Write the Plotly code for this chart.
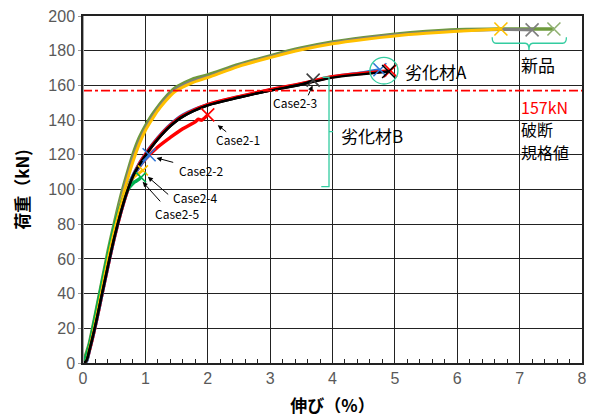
import plotly.graph_objects as go

# ---------------- data ----------------
# 新品 (new material)
new_gold_x = [0.0, 0.05, 0.1, 0.2, 0.3, 0.4, 0.5, 0.6, 0.7, 0.8, 0.9, 1.0, 1.1, 1.2, 1.3, 1.4, 1.5, 1.75, 2.0, 2.5, 3.0, 3.5, 4.0, 4.5, 5.0, 5.5, 6.0, 6.7]
new_gold_y = [0, 1, 7, 23, 41, 59, 76, 91, 104, 116, 126, 134, 140, 145.5, 150, 154, 157, 161.5, 164.5, 171, 176, 180.5, 184, 186.5, 188.5, 190, 191.2, 192.5]
new_gray_x = [0.0, 0.05, 0.1, 0.2, 0.3, 0.4, 0.5, 0.6, 0.7, 0.8, 0.9, 1.0, 1.1, 1.2, 1.3, 1.4, 1.5, 1.75, 2.0, 2.5, 3.0, 3.5, 4.0, 4.5, 5.0, 5.5, 6.0, 6.7, 7.2]
new_gray_y = [0, 2, 9, 25, 43, 61, 78, 93, 106, 118, 127.5, 135, 141, 146.5, 151, 155, 158, 162.5, 165, 171.5, 176.5, 181, 184.5, 187, 189, 190.5, 191.5, 192.2, 192]
new_green_x = [0.0, 0.03, 0.1, 0.2, 0.3, 0.4, 0.5, 0.6, 0.7, 0.8, 0.9, 1.0, 1.1, 1.2, 1.3, 1.4, 1.5, 1.75, 2.0, 2.5, 3.0, 3.5, 4.0, 4.5, 5.0, 5.5, 6.0, 6.7, 7.2, 7.55]
new_green_y = [0, 3, 11, 28, 46, 64, 80, 95, 108, 120, 129.5, 136.5, 142.5, 147.5, 152, 156, 159, 163.5, 166, 172, 177, 181.5, 185, 187.5, 189.5, 191, 192, 192.5, 192.5, 192.5]

# 劣化材A (degraded A)
degA_black_x = [0.0, 0.05, 0.1, 0.2, 0.3, 0.4, 0.5, 0.6, 0.7, 0.8, 0.9, 1.0, 1.1, 1.2, 1.4, 1.6, 2.0, 2.5, 3.0, 3.5, 4.0, 4.5, 4.9]
degA_black_y = [0, 1, 7, 22, 39, 56, 72, 86, 98, 107.5, 114, 119.5, 124.5, 129, 136.5, 142, 148.5, 153, 157, 160.5, 164.5, 166.5, 168]
degA_red_x = [0.0, 0.05, 0.1, 0.2, 0.3, 0.4, 0.5, 0.6, 0.7, 0.8, 0.9, 1.0, 1.1, 1.2, 1.4, 1.6, 2.0, 2.5, 3.0, 3.5, 4.0, 4.5, 4.93]
degA_red_y = [0, 1, 7, 22, 39, 56, 72, 86, 98, 107.5, 114.5, 120, 125, 129.5, 137, 142.5, 149, 153.5, 157.5, 161, 165, 167, 168.5]
degA_blue_x = [0.0, 0.05, 0.1, 0.2, 0.3, 0.4, 0.5, 0.6, 0.7, 0.8, 0.9, 1.0, 1.1, 1.2, 1.4, 1.6, 2.0, 2.5, 3.0, 3.5, 4.0, 4.5, 4.76]
degA_blue_y = [0, 1, 8, 23, 40, 57, 73, 87, 99, 108, 115, 120.5, 125.5, 130, 137.5, 143, 149, 153.5, 157.5, 161, 165, 167.5, 169]

# 劣化材B (degraded B)
case21_x = [0.0, 0.05, 0.1, 0.2, 0.3, 0.4, 0.5, 0.6, 0.7, 0.8, 0.9, 1.0, 1.2, 1.4, 1.6, 1.8, 1.85, 1.9, 2.0]
case21_y = [0, 1, 7, 22, 39, 56, 72, 86, 98, 107, 113, 117.5, 124.5, 130, 135, 139, 140.5, 140, 143]
case22_x = [0.0, 0.05, 0.1, 0.2, 0.3, 0.4, 0.5, 0.6, 0.7, 0.8, 0.9, 1.0, 1.06]
case22_y = [0, 1, 8, 23, 40, 57, 73, 87, 99, 107.5, 113.5, 118, 120]
case23_x = [0.0, 0.05, 0.1, 0.2, 0.3, 0.4, 0.5, 0.6, 0.7, 0.8, 0.9, 1.0, 1.1, 1.2, 1.4, 1.6, 2.0, 2.5, 3.0, 3.5, 3.69]
case23_y = [0, 1, 7, 22, 39, 56, 72, 86, 98, 107.5, 114, 119.5, 124.5, 129, 136.5, 142, 148.5, 153, 157, 160.5, 163]
case24_x = [0.0, 0.05, 0.1, 0.2, 0.3, 0.4, 0.5, 0.6, 0.7, 0.8, 0.9, 0.96]
case24_y = [0, 1, 8, 24, 42, 60, 76, 90, 100.5, 106.5, 109.5, 111]
case25_x = [0.0, 0.03, 0.1, 0.2, 0.3, 0.4, 0.5, 0.6, 0.7, 0.8, 0.9, 0.93]
case25_y = [0, 2, 10, 27, 45, 62, 78, 90.5, 99, 103.5, 106, 107]

break_load = 157  # kN
x_ticks = [0, 1, 2, 3, 4, 5, 6, 7, 8]
y_ticks = [0, 20, 40, 60, 80, 100, 120, 140, 160, 180, 200]

# ---------------- figure ----------------
fig = go.Figure()

def curve(x, y, color, width=3.2):
    fig.add_trace(go.Scatter(x=x, y=y, mode="lines",
                             line=dict(color=color, width=width, shape="spline", smoothing=0.8),
                             showlegend=False, hoverinfo="skip"))

def end_cross(x, y, color, size=13):
    fig.add_trace(go.Scatter(x=[x[-1]], y=[y[-1]], mode="markers",
                             marker=dict(symbol="x-thin", size=size, line=dict(color=color, width=1.6)),
                             showlegend=False, hoverinfo="skip"))

GOLD = "#FFC000"
OLIVE = "#6E9A3C"
GRAY = "#7F7F7F"
RED = "#FF0000"
BLUE = "#2E75D6"
BGREEN = "#00B050"
TEAL = "#33CCA0"

# new material curves
curve(new_green_x, new_green_y, OLIVE, 3.6)
curve(new_gray_x, new_gray_y, GRAY, 3)
curve(new_gold_x, new_gold_y, GOLD, 3)
# degraded A
curve(degA_blue_x, degA_blue_y, BLUE, 3)
curve(degA_red_x, degA_red_y, RED, 3.4)
# degraded B
curve(case21_x, case21_y, RED, 3.4)
curve(case22_x, case22_y, BLUE, 4)
curve(case25_x, case25_y, BGREEN, 3.4)
curve(case24_x, case24_y, GOLD, 2.6)
curve(case23_x, case23_y, "#000000", 2.4)
curve(degA_black_x, degA_black_y, "#000000", 2.4)

end_cross(new_gold_x, new_gold_y, GOLD)
end_cross(new_gray_x, new_gray_y, GRAY)
end_cross(new_green_x, new_green_y, "#8FB070")
end_cross(degA_blue_x, degA_blue_y, BLUE)
end_cross(degA_red_x, degA_red_y, RED)
end_cross(degA_black_x, degA_black_y, "#000000")
end_cross(case21_x, case21_y, RED)
end_cross(case22_x, case22_y, BLUE)
end_cross(case23_x, case23_y, "#404040")
end_cross(case24_x, case24_y, GOLD, 10)
end_cross(case25_x, case25_y, BGREEN, 10)

# breaking load line
fig.add_trace(go.Scatter(x=[x_ticks[0], x_ticks[-1]], y=[break_load, break_load], mode="lines",
                         line=dict(color=RED, width=1.6, dash="dashdot"),
                         showlegend=False, hoverinfo="skip"))

shapes = [
    # 劣化材B bracket
    dict(type="path", path="M 3.84,164.7 L 3.944,164.7 L 3.944,101.7 L 3.82,101.7 M 3.944,133.4 L 4.01,133.4",
         line=dict(color=TEAL, width=1.3), xref="x", yref="y"),
    # 新品 bracket
    dict(type="path", path="M 6.56,187.8 Q 6.56,184.3 6.62,184.3 L 7.09,184.3 Q 7.15,184.3 7.15,180.4 Q 7.15,184.3 7.21,184.3 L 7.69,184.3 Q 7.75,184.3 7.75,187.8",
         line=dict(color=TEAL, width=1.3), xref="x", yref="y"),
    # circle around 劣化材A end
    dict(type="circle", x0=4.60, x1=5.05, y0=160.8, y1=176.2, line=dict(color=TEAL, width=1.3),
         xref="x", yref="y"),
    # lighter left frame edge
    dict(type="line", x0=0, x1=0, y0=0, y1=1, xref="x", yref="paper",
         line=dict(color="#A6A6A6", width=2)),
]

ann = []
def txt(x, y, s, size=12, color="black", xanchor="center"):
    ann.append(dict(x=x, y=y, text=s, showarrow=False, xanchor=xanchor, yanchor="middle",
                    borderpad=0,
                    font=dict(size=size, color=color, family="Noto Sans CJK JP, Arial")))

def arrow(x, y, ax, ay):
    ann.append(dict(x=x, y=y, ax=ax, ay=ay, axref="x", ayref="y", text="", showarrow=True,
                    arrowhead=2, arrowsize=1, arrowwidth=1, arrowcolor="black"))

txt(2.49, 128.6, "Case2-1")
txt(1.90, 111.0, "Case2-2")
txt(1.80, 95.3, "Case2-4")
txt(1.51, 86.0, "Case2-5")
txt(3.40, 150.0, "Case2-3")
arrow(2.16, 137.1, 2.32, 132.6)
arrow(1.18, 118.2, 1.47, 115.4)
arrow(1.04, 107.3, 1.39, 96.4)
arrow(0.957, 104.4, 1.26, 92.3)
arrow(3.68, 159.9, 3.60, 153.4)

txt(5.14, 168.0, "劣化材A", 17, xanchor="left")
txt(4.12, 131.0, "劣化材B", 17, xanchor="left")
txt(7.01, 171.8, "新品", 17, xanchor="left")
txt(7.01, 147.8, "157kN", 16, RED, xanchor="left")
txt(7.01, 134.8, "破断", 16, xanchor="left")
txt(7.01, 121.9, "規格値", 16, xanchor="left")

fig.update_layout(
    width=590, height=419,
    margin=dict(l=83, r=8, t=16, b=56, autoexpand=False),
    paper_bgcolor="white", plot_bgcolor="white",
    shapes=shapes, annotations=ann,
    font=dict(family="Arial, Liberation Sans, sans-serif"),
)

fig.update_xaxes(
    range=[0, 8], tickvals=x_ticks, ticktext=[str(t) for t in x_ticks],
    showgrid=True, gridcolor="#222222", gridwidth=1.3,
    showline=True, linecolor="#222222", linewidth=1.5, mirror=True,
    ticks="", tickfont=dict(size=16, color="#595959"),
    minor=dict(dtick=0.2, ticks="inside", ticklen=4, tickcolor="#222222", showgrid=False),
    title=dict(text="<b>伸び（%）</b>", font=dict(size=17, color="black", family="Noto Sans CJK JP"), standoff=14),
    zeroline=False, automargin=False,
)
fig.update_yaxes(
    range=[0, 200], tickvals=y_ticks, ticktext=[str(t) for t in y_ticks],
    showgrid=True, gridcolor="#222222", gridwidth=1.3,
    showline=True, linecolor="#222222", linewidth=1.5, mirror=True,
    ticks="outside", ticklen=3, tickcolor="#999999", tickfont=dict(size=16, color="#595959"),
    title=dict(text="<b>荷重（kN)</b>", font=dict(size=17, color="black", family="Noto Sans CJK JP"), standoff=14),
    zeroline=False, automargin=False,
)

fig.write_html("out.html")
